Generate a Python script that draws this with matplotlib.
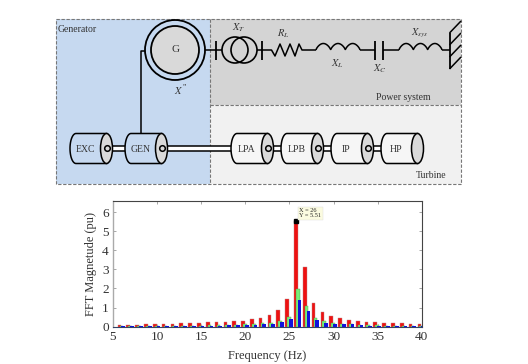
#!/usr/bin/env python3
import matplotlib

matplotlib.use("Agg")
import matplotlib.pyplot as plt
import numpy as np
from matplotlib.patches import Circle, Ellipse, Polygon, Rectangle

plt.rcParams["font.family"] = ["Liberation Serif", "DejaVu Serif"]
plt.rcParams["mathtext.fontset"] = "stix"

FREQ = list(range(6, 41))
RED = [0.10, 0.10, 0.11, 0.13, 0.14, 0.14, 0.16, 0.17, 0.20, 0.20, 0.22, 0.24,
       0.27, 0.28, 0.32, 0.40, 0.46, 0.60, 0.85, 1.45, 5.51, 3.15, 1.25, 0.75,
       0.55, 0.45, 0.35, 0.30, 0.25, 0.24, 0.20, 0.18, 0.17, 0.15, 0.13]
GREEN = [0.02, 0.02, 0.03, 0.03, 0.04, 0.04, 0.04, 0.05, 0.05, 0.06, 0.07, 0.08,
         0.10, 0.11, 0.12, 0.13, 0.17, 0.20, 0.30, 0.50, 1.95, 1.10, 0.45, 0.30,
         0.20, 0.15, 0.12, 0.09, 0.08, 0.07, 0.06, 0.05, 0.05, 0.04, 0.04]
BLUE = [0.02, 0.02, 0.02, 0.02, 0.03, 0.03, 0.03, 0.04, 0.04, 0.05, 0.05, 0.06,
        0.07, 0.08, 0.09, 0.10, 0.13, 0.15, 0.22, 0.38, 1.40, 0.80, 0.35, 0.20,
        0.15, 0.12, 0.16, 0.09, 0.06, 0.05, 0.04, 0.04, 0.03, 0.03, 0.03]
X_TICKS = [5, 10, 15, 20, 25, 30, 35, 40]
Y_TICKS = [0, 1, 2, 3, 4, 5, 6]
CYLINDERS = [("EXC", 70), ("GEN", 125), ("LPA", 231), ("LPB", 281), ("IP", 331), ("HP", 381)]

TXT = "#333333"
BLUE_BG = "#c6d9f0"
LW = 1.1


def line(d, xs, ys, lw=LW, z=4):
    d.plot(xs, ys, color="black", lw=lw, solid_capstyle="butt", zorder=z)


def inductor(d, x0, x1, y, humps=3, h=6.5):
    t = np.linspace(0, 1, 120)
    line(d, x0 + (x1 - x0) * t, y - h * np.abs(np.sin(np.pi * humps * t)) ** 0.7)


def cylinder(d, name, x0, w=42.5, y0=133.5, h=30, hub=True):
    rx = 6
    x1 = x0 + w
    cy = y0 + h / 2
    t = np.linspace(np.pi / 2, 3 * np.pi / 2, 30)
    body = np.concatenate([
        np.c_[x0 + rx + rx * np.cos(t), cy + h / 2 * np.sin(t)],
        np.c_[[x1 - rx, x1 - rx], [y0, y0 + h]],
    ])
    fill = BLUE_BG if x0 < 200 else "#f6f6f6"
    d.add_patch(Polygon(body, fc=fill, ec="black", lw=LW, zorder=5))
    d.add_patch(Ellipse((x1 - rx, cy), 2 * rx, h, fc="#d9d9d9", ec="black", lw=LW, zorder=6))
    if hub:
        d.add_patch(Circle((x1 - rx + 1, cy), 2.8, fc="#d9d9d9", ec="black", lw=LW, zorder=7))
    d.text(x0 + w / 2 - 6, cy + 0.5, name, ha="center", va="center", fontsize=7, color=TXT, zorder=8)


def shaft(d, x0, x1, cy=148.5, gap=2.6):
    d.add_patch(Rectangle((x0, cy - gap), x1 - x0, 2 * gap, fc="white", ec="black", lw=LW, zorder=4))


def draw_diagram(d):
    d.add_patch(Rectangle((55.5, 18.5), 154, 165.5, fc=BLUE_BG, ec="none", zorder=1))
    d.add_patch(Rectangle((209.5, 18.5), 251.5, 86.5, fc="#d4d4d4", ec="none", zorder=1))
    d.add_patch(Rectangle((209.5, 105), 251.5, 79, fc="#f1f1f1", ec="none", zorder=1))
    for xs, ys in [([55.5, 461, 461, 55.5, 55.5], [18.5, 18.5, 184, 184, 18.5]),
                   ([209.5, 209.5], [18.5, 184]), ([209.5, 461], [105, 105])]:
        d.plot(xs, ys, color="#777777", lw=0.8, ls=(0, (3, 1.5)), zorder=2)

    # generator
    d.add_patch(Circle((175, 50), 30, fc="none", ec="black", lw=LW + 0.2, zorder=4))
    d.add_patch(Circle((175, 50), 24, fc="#d9d9d9", ec="black", lw=LW + 0.2, zorder=5))
    d.text(176, 49.5, "G", ha="center", va="center", fontsize=8, color=TXT, zorder=8)
    d.text(179, 90, r"$X$", ha="center", va="center", fontsize=7.5, color=TXT)
    d.text(184, 87.5, '"', ha="center", va="center", fontsize=6, color=TXT)
    line(d, [145, 141, 141], [50.5, 50.5, 134])
    d.text(58, 29, "Generator", ha="left", va="center", fontsize=7, color=TXT)

    # network
    line(d, [205, 216], [50, 50])
    line(d, [215.7, 215.7], [40.5, 60], lw=1.3)
    line(d, [216, 222], [50, 50])
    for cx in (235, 244):
        d.add_patch(Circle((cx, 50), 13, fc="none", ec="black", lw=LW + 0.1, zorder=4))
    line(d, [257, 262], [50, 50])
    line(d, [261.7, 261.7], [40.5, 60], lw=1.3)
    rx = [262, 271.5, 275, 280, 285, 290, 295, 299, 302, 316]
    ry = [50, 50, 56, 44, 56, 44, 56, 44, 50, 50]
    line(d, rx, ry)
    inductor(d, 316, 360, 50)
    line(d, [360, 375], [50, 50])
    line(d, [375, 375], [41, 60], lw=1.3)
    line(d, [382.7, 382.7], [41, 60], lw=1.3)
    line(d, [382.7, 399], [50, 50])
    inductor(d, 399, 442, 50)
    line(d, [442, 449.5], [50, 50])
    line(d, [449.5, 449.5], [33, 69], lw=1.3)
    for gy in (33, 45, 57, 69):
        line(d, [449.5, 461], [gy, gy - 12])
    d.text(239, 28, r"$X_T$", ha="center", va="center", fontsize=7.5, color=TXT)
    d.text(283, 34, r"$R_L$", ha="center", va="center", fontsize=7.5, color=TXT)
    d.text(337, 64, r"$X_L$", ha="center", va="center", fontsize=7.5, color=TXT)
    d.text(380, 69, r"$X_C$", ha="center", va="center", fontsize=7.5, color=TXT)
    d.text(420, 33, r"$X_{sys}$", ha="center", va="center", fontsize=7.5, color=TXT)
    d.text(431, 98, "Power system", ha="right", va="center", fontsize=7, color=TXT)
    d.text(446, 176, "Turbine", ha="right", va="center", fontsize=7, color=TXT)

    # rotor train
    shaft(d, 107, 126)
    shaft(d, 162, 232)
    shaft(d, 268, 282)
    shaft(d, 318, 332)
    shaft(d, 368, 382)
    for name, x0 in CYLINDERS:
        cylinder(d, name, x0, hub=name != "HP")


def draw_bars(ax):
    f = np.array(FREQ)
    w = 0.42
    ax.bar(f - 0.26, RED, w, color="#ee1111", ec="#bb8888", lw=0.3, zorder=3)
    ax.bar(f - 0.05, GREEN, w, color="#77ee77", ec="#559955", lw=0.3, zorder=4)
    ax.bar(f + 0.16, BLUE, w, color="#1111dd", ec="none", zorder=5)
    ax.set_xlim(5, 40)
    ax.set_ylim(0, 6.58)
    ax.set_xticks(X_TICKS)
    ax.set_yticks(Y_TICKS)
    ax.tick_params(top=True, right=True, direction="in", length=2, width=0.6,
                   color="#999999", labelsize=9.5, labelcolor=TXT, pad=3)
    for s in ("top", "right", "bottom"):
        ax.spines[s].set_color("#444444")
        ax.spines[s].set_linewidth(0.8)
    ax.spines["bottom"].set_color("#334466")
    ax.spines["left"].set_color("#aaaaaa")
    ax.spines["left"].set_linewidth(1.0)
    ax.set_xlabel("Frequency (Hz)", fontsize=9, color=TXT, labelpad=5)
    ax.set_ylabel("FFT Magnetude (pu)", fontsize=9, color=TXT, labelpad=4)
    peak = FREQ[RED.index(max(RED))]
    ax.plot([peak - 0.26], [max(RED)], "s", color="black", ms=2.2, zorder=6)
    ax.text(peak + 0.1, max(RED) + 0.17, f"X = {peak}\nY = {max(RED)}", fontsize=4.5,
            color="#222222", ha="left", va="bottom", linespacing=1.0, zorder=7,
            bbox=dict(boxstyle="square,pad=0.25", fc="#fbfbe0", ec="#dddddd", lw=0.3))


def main():
    fig = plt.figure(figsize=(5.28, 3.64), dpi=100)
    d = fig.add_axes([0, 0, 1, 1])
    d.set_xlim(0, 528)
    d.set_ylim(364, 0)
    d.axis("off")
    draw_diagram(d)
    ax = fig.add_axes([113 / 528, 1 - 326.7 / 364, 308.7 / 528, 125.7 / 364])
    draw_bars(ax)
    fig.savefig("out.png", dpi=100)


if __name__ == "__main__":
    main()
